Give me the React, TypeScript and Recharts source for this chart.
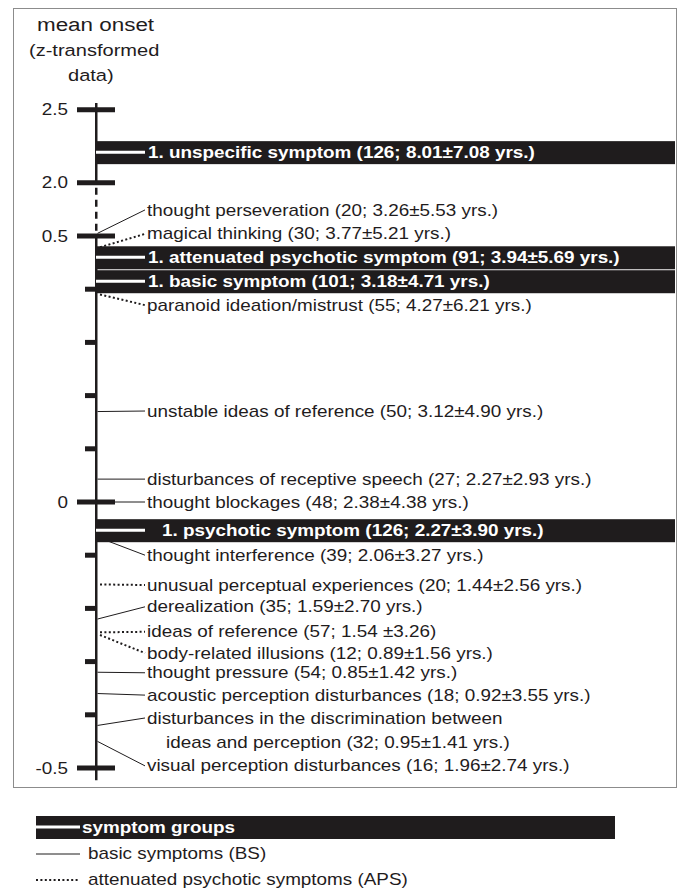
import React from "react"
import { ComposedChart, Line, Scatter, XAxis, YAxis, Legend } from "recharts"

const INK = "#1f1c1d"
const FONT = "'Liberation Sans', Arial, Helvetica, sans-serif"
const SX = 1.18 // the source figure is set a little wide

// y axis (mean onset, z-transformed), with a break between 0.5 and 2.0
const tickValues = [2.5, 2.0, 0.5, 0.4, 0.3, 0.2, 0.1, 0, -0.1, -0.2, -0.3, -0.4, -0.5]
const tickLabels = ["2.5", "2.0", "0.5", "", "", "", "", "0", "", "", "", "", "-0.5"]

// symptom groups
const groupNames = ["unspecific symptom", "attenuated psychotic symptom", "basic symptom", "psychotic symptom"]
const groupN = [126, 91, 101, 126]
const groupMean = [8.01, 3.94, 3.18, 2.27]
const groupSd = [7.08, 5.69, 4.71, 3.9]
const groupOnset = [2.21, 0.46, 0.415, -0.053]

// single symptoms
const symptomNames = [
  "thought perseveration",
  "magical thinking",
  "paranoid ideation/mistrust",
  "unstable ideas of reference",
  "disturbances of receptive speech",
  "thought blockages",
  "thought interference",
  "unusual perceptual experiences",
  "derealization",
  "ideas of reference",
  "body-related illusions",
  "thought pressure",
  "acoustic perception disturbances",
  "disturbances in the discrimination between\nideas and perception",
  "visual perception disturbances",
]
const symptomKind = ["BS", "APS", "APS", "BS", "BS", "BS", "BS", "APS", "BS", "APS", "APS", "BS", "BS", "BS", "BS"]
const symptomN = [20, 30, 55, 50, 27, 48, 39, 20, 35, 57, 12, 54, 18, 32, 16]
const symptomMean = [3.26, 3.77, 4.27, 3.12, 2.27, 2.38, 2.06, 1.44, 1.59, 1.54, 0.89, 0.85, 0.92, 0.95, 1.96]
const symptomSd = [5.53, 5.21, 6.21, 4.9, 2.93, 4.38, 3.27, 2.56, 2.7, 3.26, 1.56, 1.42, 3.55, 1.41, 2.74]
const symptomOnset = [0.505, 0.479, 0.39, 0.17, 0.043, 0, -0.066, -0.155, -0.22, -0.245, -0.25, -0.32, -0.36, -0.42, -0.45]

const legendItems = ["symptom groups", "basic symptoms (BS)", "attenuated psychotic symptoms (APS)"]

// layout: where each label row sits, in axis units
const labelAt = [0.549, 0.504, 0.37, 0.171, 0.043, 0, -0.1, -0.156, -0.197, -0.244, -0.284, -0.321, -0.363, -0.406, -0.496]
const groupIndent = [0, 0, 0, 14]

// broken axis: upper part (2.0 - 2.5) is compressed and shifted down
const BREAK_LOW = 0.5
const BREAK_HIGH = 2.0
const BREAK_GAP = 0.1
const UPPER_RATIO = 0.2744
const toAxis = (v: number) => (v > 1 ? BREAK_LOW + BREAK_GAP + (v - BREAK_HIGH) * UPPER_RATIO : v)

const SPINE_TOP = 0.75
const SPINE_BOTTOM = -0.523

const fmt = (n: number, m: number, s: number, unit = true) =>
  unit ? `(${n}; ${m.toFixed(2)}±${s.toFixed(2)} yrs.)` : `(${n}; ${m.toFixed(2)} ±${s.toFixed(2)})`

function Txt({ x, y, children, size = 16, bold = false, fill = INK, anchor = "start" }: any) {
  return (
    <text
      transform={`translate(${x} ${y}) scale(${SX} 1)`}
      fontSize={size}
      fontWeight={bold ? 700 : 400}
      fontFamily={FONT}
      fill={fill}
      textAnchor={anchor}
      dy="0.35em"
    >
      {children}
    </text>
  )
}

function AxisTick(props: any) {
  const { x, y, payload } = props
  const i = tickValues.findIndex((t) => Math.abs(toAxis(t) - payload.value) < 1e-6)
  const label = i >= 0 ? tickLabels[i] : ""
  const major = label !== ""
  return (
    <g>
      <line x1={major ? x - 18 : x - 10} x2={major ? x + 20 : x} y1={y} y2={y} stroke={INK} strokeWidth={5} />
      {major && (
        <Txt x={x - 27} y={y} anchor="end">
          {label}
        </Txt>
      )}
    </g>
  )
}

function TitleBlock() {
  return (
    <g>
      <Txt x={37} y={24} size={19}>
        mean onset
      </Txt>
      <Txt x={29} y={50} size={17}>
        (z-transformed
      </Txt>
      <Txt x={68} y={75} size={17}>
        data)
      </Txt>
    </g>
  )
}

function SymptomLabel(props: any) {
  const { cx, cy, payload } = props
  const lines: string[] = payload.text.split("\n")
  return (
    <g>
      {lines.map((l, k) => (
        <Txt key={k} x={cx + (k > 0 ? 19 : 0)} y={cy + k * 24}>
          {l}
        </Txt>
      ))}
    </g>
  )
}

function GroupBar(props: any) {
  const { cx, cy, payload } = props
  return (
    <g>
      <rect x={cx - 2.5} y={cy - 11} width={582.5} height={23} fill={INK} />
      <line x1={cx + 1} x2={cx + 50} y1={cy} y2={cy} stroke="#fff" strokeWidth={3} />
      <Txt x={cx + 53 + payload.indent} y={cy} bold fill="#fff">
        {payload.text}
      </Txt>
    </g>
  )
}

function LegendBox() {
  return (
    <svg width={680} height={84} style={{ display: "block" }}>
      <rect x={36} y={8} width={579} height={23} fill={INK} />
      <line x1={36} x2={80} y1={19} y2={19} stroke="#fff" strokeWidth={3} />
      <Txt x={82} y={19} bold fill="#fff">
        {legendItems[0]}
      </Txt>
      <line x1={36} x2={80} y1={46} y2={46} stroke={INK} strokeWidth={1} />
      <Txt x={88} y={45}>
        {legendItems[1]}
      </Txt>
      <line x1={36} x2={80} y1={72} y2={72} stroke={INK} strokeWidth={2} strokeDasharray="2 2.4" />
      <Txt x={88} y={71}>
        {legendItems[2]}
      </Txt>
    </svg>
  )
}

export default function App() {
  const symptomLabels = symptomNames.map((name, i) => ({
    x: 52,
    y: labelAt[i],
    text: `${name} ${fmt(symptomN[i], symptomMean[i], symptomSd[i], name !== "ideas of reference")}`,
  }))
  const groups = groupNames.map((name, i) => ({
    x: 0,
    y: toAxis(groupOnset[i]),
    indent: groupIndent[i],
    text: `1. ${name} ${fmt(groupN[i], groupMean[i], groupSd[i])}`,
  }))
  const spine = [
    { data: [{ x: 0, y: SPINE_TOP }, { x: 0, y: toAxis(BREAK_HIGH) }], dash: undefined },
    { data: [{ x: 0, y: toAxis(BREAK_HIGH) }, { x: 0, y: BREAK_LOW }], dash: "7 5" },
    { data: [{ x: 0, y: BREAK_LOW }, { x: 0, y: SPINE_BOTTOM }], dash: undefined },
  ]

  return (
    <div style={{ position: "absolute", left: 0, top: 0, width: 680, height: 892, background: "#fff" }}>
      <div
        style={{
          position: "absolute",
          left: 13,
          top: 8,
          width: 664,
          height: 780,
          border: "1.5px solid #8c8c8c",
          boxSizing: "border-box",
        }}
      />
      <ComposedChart width={680} height={892} margin={{ top: 23.2, right: 5, bottom: 1.64, left: 0 }}>
        <XAxis type="number" dataKey="x" domain={[0, 580]} allowDataOverflow hide />
        <YAxis
          type="number"
          dataKey="y"
          domain={[-0.73, 0.9]}
          allowDataOverflow
          ticks={tickValues.map(toAxis)}
          interval={0}
          width={95}
          tickSize={0}
          tickMargin={0}
          axisLine={false}
          tickLine={false}
          tick={<AxisTick />}
          label={<TitleBlock />}
        />
        {spine.map((s, i) => (
          <Line
            key={`spine-${i}`}
            data={s.data}
            dataKey="y"
            stroke={INK}
            strokeWidth={5}
            strokeDasharray={s.dash}
            strokeDashoffset={s.dash ? -5 : undefined}
            dot={false}
            activeDot={false}
            legendType="none"
            isAnimationActive={false}
          />
        ))}
        {symptomNames.map((name, i) => {
          const aps = symptomKind[i] === "APS"
          return (
            <Line
              key={name}
              data={[
                { x: aps ? 5 : 2.5, y: toAxis(symptomOnset[i]) },
                { x: 50, y: labelAt[i] },
              ]}
              dataKey="y"
              stroke={INK}
              strokeWidth={aps ? 2 : 1}
              strokeDasharray={aps ? "2 2.4" : undefined}
              dot={false}
              activeDot={false}
              legendType="none"
              isAnimationActive={false}
            />
          )
        })}
        <Scatter data={symptomLabels} shape={<SymptomLabel />} legendType="none" isAnimationActive={false} />
        <Scatter data={groups} shape={<GroupBar />} legendType="none" isAnimationActive={false} />
        <Legend
          layout="vertical"
          align="center"
          verticalAlign="middle"
          wrapperStyle={{ left: 0, top: 808, width: 680, height: 84 }}
          content={() => <LegendBox />}
        />
      </ComposedChart>
    </div>
  )
}
